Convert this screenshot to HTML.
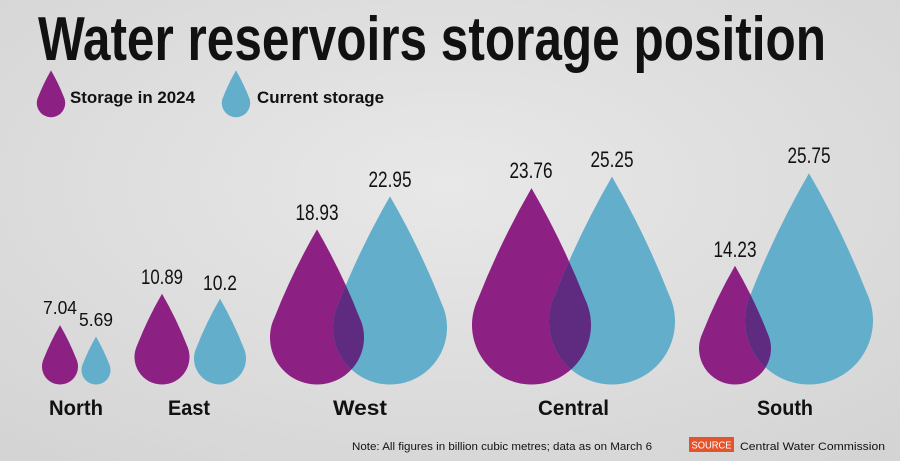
<!DOCTYPE html>
<html><head><meta charset="utf-8"><style>
html,body{margin:0;padding:0;}
body{width:900px;height:461px;overflow:hidden;background:#dadada;}
svg{display:block;}
text{font-family:"Liberation Sans",sans-serif;fill:#111;}
</style></head><body>
<svg id="s" width="900" height="461" viewBox="0 0 900 461" xmlns="http://www.w3.org/2000/svg">
<defs>
<radialGradient id="bg" cx="50%" cy="40%" r="75%">
<stop offset="0" stop-color="#e8e8e8"/><stop offset="1" stop-color="#d4d4d4"/>
</radialGradient>
</defs>
<rect width="900" height="461" fill="url(#bg)"/>
<g id="drops"></g>
<text x="38" y="60" font-size="62" font-weight="bold" textLength="788" lengthAdjust="spacingAndGlyphs">Water reservoirs storage position</text>
<text x="70" y="103" font-size="17" font-weight="bold" textLength="125" lengthAdjust="spacingAndGlyphs">Storage in 2024</text>
<text x="257" y="103" font-size="17" font-weight="bold" textLength="127" lengthAdjust="spacingAndGlyphs">Current storage</text>
<g font-size="22" text-anchor="middle">
<text x="60" y="314" font-size="18" textLength="34" lengthAdjust="spacingAndGlyphs">7.04</text>
<text x="96" y="326" font-size="18" textLength="34" lengthAdjust="spacingAndGlyphs">5.69</text>
<text x="162" y="284" font-size="21" textLength="42" lengthAdjust="spacingAndGlyphs">10.89</text>
<text x="220" y="290" font-size="21" textLength="34" lengthAdjust="spacingAndGlyphs">10.2</text>
<text x="317" y="220" textLength="43" lengthAdjust="spacingAndGlyphs">18.93</text>
<text x="390" y="187" textLength="43" lengthAdjust="spacingAndGlyphs">22.95</text>
<text x="531" y="178" textLength="43" lengthAdjust="spacingAndGlyphs">23.76</text>
<text x="612" y="167" textLength="43" lengthAdjust="spacingAndGlyphs">25.25</text>
<text x="735" y="257" textLength="43" lengthAdjust="spacingAndGlyphs">14.23</text>
<text x="809" y="163" textLength="43" lengthAdjust="spacingAndGlyphs">25.75</text>
</g>
<g font-size="21" font-weight="bold">
<text x="49" y="415" textLength="54" lengthAdjust="spacingAndGlyphs">North</text>
<text x="168" y="415" textLength="42" lengthAdjust="spacingAndGlyphs">East</text>
<text x="333" y="415" textLength="54" lengthAdjust="spacingAndGlyphs">West</text>
<text x="538" y="415" textLength="71" lengthAdjust="spacingAndGlyphs">Central</text>
<text x="757" y="415" textLength="56" lengthAdjust="spacingAndGlyphs">South</text>
</g>
<text x="352" y="450" font-size="11" textLength="300" lengthAdjust="spacingAndGlyphs">Note: All figures in billion cubic metres; data as on March 6</text>
<rect x="689" y="437" width="45" height="15" fill="#e5532a"/>
<text x="711.5" y="448.5" font-size="10.5" text-anchor="middle" style="fill:#fff" textLength="40" lengthAdjust="spacingAndGlyphs">SOURCE</text>
<text x="740" y="450" font-size="11" textLength="145" lengthAdjust="spacingAndGlyphs">Central Water Commission</text>
</svg>
<script>
(function(){
var NS="http://www.w3.org/2000/svg",g=document.getElementById("drops"),defs=document.querySelector("defs");
function path(cx,cy,r){var d=2.3*r,s=0.9005*r,c=0.4348*r,ty=cy-d;
var mx=s/2,my=(ty+cy-c)/2,bx=0.9005*0.1*r*0.9,by=-0.4348*0.1*r*0.9;
// outward normal to the side line approx
var nx=0.9005*0.08*r,ny=-0.4348*0.08*r*0+(-0.03*r);
return "M"+cx+" "+ty+" Q"+(cx+mx+nx)+" "+(my+ny)+" "+(cx+s)+" "+(cy-c)+" A"+r+" "+r+" 0 1 1 "+(cx-s)+" "+(cy-c)+" Q"+(cx-mx-nx)+" "+(my+ny)+" "+cx+" "+ty+" Z";}
function mk(d,fill,clip){var p=document.createElementNS(NS,"path");p.setAttribute("d",d);p.setAttribute("fill",fill);if(clip)p.setAttribute("clip-path","url(#"+clip+")");g.appendChild(p);return p;}
var P="#8c2183",B="#63aecb",O="#5f2b80",bot=384.5;
var pairs=[[60,18,96,14.5],[162,27.5,220,26],[317,47,390,57],[531.5,59.5,612,63],[735,36,809,64]];
pairs.forEach(function(q,i){
 var dp=path(q[0],bot-q[1],q[1]),db=path(q[2],bot-q[3],q[3]);
 mk(dp,P);mk(db,B);
 var cp=document.createElementNS(NS,"clipPath");cp.id="c"+i;
 var pp=document.createElementNS(NS,"path");pp.setAttribute("d",db);cp.appendChild(pp);defs.appendChild(cp);
 mk(dp,O,"c"+i);
});
mk(path(51,103,14.2),P);mk(path(236,103,14.2),B);
})();
</script>
</body></html>
